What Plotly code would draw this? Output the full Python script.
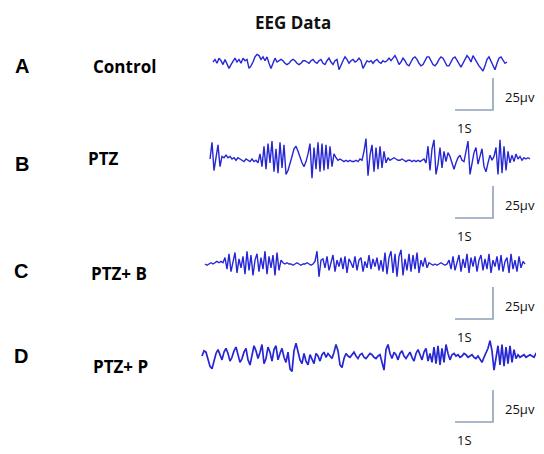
import plotly.graph_objects as go

# ---------------- data ----------------
panel_letters = ["A", "B", "C", "D"]
conditions = ["Control", "PTZ", "PTZ+ B", "PTZ+ P"]
title_text = "EEG Data"
scale_amp_label = "25µv"
scale_time_label = "1S"
scale_amp_uv = 25      # µV
scale_time_s = 1       # s
sample_dt = 2 / 38     # s between samples

# EEG amplitudes in µV (relative to each trace's baseline)
eeg_control = [0, 2, -1, 3, 1, -2, 2, -1,
               -5, -2, 1,
               3, 0, 2, -1, 3, 1, 2,
               -5, -3,
               0, 4, 6, 5, 2,
               4, 1, 4, -1, -5, -1, 3, 0,
               1, 2, 1, -1, -2, -1, 1, 2, 1, -1, -2, -1, 1, 1, 0, -1,
               1, 2, 0, -1, 1, 2, -1, -2, 1, 3, 0, -2, 1, 2,
               -6, -2, 1,
               4, 2, -1, 1, 2, 0, 1, 3, 1,
               -5, -2,
               1, 0, 1, -1, 1, 2, 0, -1, 1, 0,
               1, 3, 1, 3, 5, 2, -2, 0, 3, 1,
               -2, -3, 0, 3, 4, 2, -1, -3, -2, 1, 4, 4, 1, -2, -3, -1, 2, 4, 3, 0, -3, -3, 0, 3, 4, 1,
               -2, -4, -1, 2, 5, 3, 0,
               5, 2, -1, -3, -5,
               -7, -3, 2,
               4, 1, -3, -6, -1, 3, 4, 1, -1, 0]

eeg_ptz = [0, 13, -9, 3, 11, -6,
           2, 1, 3, 1, 2, 0, 1, -1, 1, 0, -1, -2, 0, -1, -2, 0, -2, -1, -3,
           4, -6, 10, -8, 12, -3, 14, -10, 8, -11, 13, -7, 11, -12, -9, -4,
           2, 8, 10, 6, 1, -3, -6, -2,
           4, 12, -15, 9, -8, 13, -10, 12, -9, 11, -8, 10, -6, 4,
           1, -1, 0, -1, -2, -1, -2, -1, -2, -2, -1, -2, 0, -1,
           6, 16, -13, 3, 11, -10, 9, -8, 10, -7, 6, -3,
           1, -1, 0, 1, 0, -1, -1, 0, -1, -2, -1, -1, -2, -1, -2, -1, -2, -1, 0, -3,
           10, -9, 8, 15, -12, -4, 9, -7, 6, -2,
           5, 2, -3, -8, -3, 1, 3, -1, -2,
           6, 14, -12, -3,
           5, 9, -4, 2, 8, -6, -10, -3, 3, -1, 2,
           9, -12, 15, -11, 10, -9, 6, -3,
           3, -2, 4, 0, 2, -1, 1, 0, 1, 0]

eeg_ptz_b = [0, -1, 0, 1, 0, 1, 2, 1, 2, 1,
             5, -4, 8, -6, 3, 9, -7, 4, -3, 6, -8, 10, -5, 7, -9, 3, 8, -6, 5, -4, 10, -8, 6, -3, 7, -9, 9, -5, 3,
             1, 0, 1, 0, 0, -1, 0, 1, 0, -1, 0, 0, 1, 0, -1, 0, 2,
             10, -10, 3,
             4, -3, 6, -5, 2, 7, -6, 3, -2, 5, -4, 6, -7, 4, 1, -3, 6, -5, 3, 5, -6, 2, -3, 7, -4, 4, -2, 5, -5, 3,
             -6, 9, -8, 5, 10, -7, 8, -10, 6, 11, -9, 4, -5, 8, -6, 7, -4, 9, -7, 3, -2, 5, -3,
             1, 0, -1, 0, -1, 0, 1, 0, -1, 0,
             3, -4, 6, -5, 2, 7, -6, 4, -3, 8, -7, 5, -2, 6, -6, 3, 7, -5, 4, -4, 8, -7, 3, -2, 6, -5, 7, -6, 2, 5,
             -7, 8, -4, 3, -6, 6, -3, 2, 0]

eeg_ptz_p = [0, 4, 3, -2, -8, -10, -4,
             2, 5, 1, -3, 3, 6, 2, -4, -1, 4, 7, 1, -5, -2, 3, 6, -3, -7, 2, 8, 4, -2, 3, 9, -6, -2, 7, 3, -4,
             5, 8, -3, 2, 6, -1, -5, 3, -10,
             -12, 4, 10, 3, -3,
             -6, 2, -4, -7, 1, -3, -6, 2, 0, -4, 1, 3, -1, 2, 0, -2, 3,
             9, 4, -7, -9, -2,
             2, 0, -1, 1, 3, 0, -2, 1, 2, -1, -2, 0, 2, 1, -1, -2, 0, 1,
             -6, -11, 5, 9, 2,
             -2, 3, 1, -3, 2, 4, 0, -2, 1, 3, -1, -4, 2, 5, 1, -3, 3, 6, -4, 2, -5, 7, -6, 8,
             -7, 6, -5, 9, 2, -3, 1,
             2, 0, 1, -1, 0, 2, 1, -1, 0, 1, -1, -2, 0, -3, -5, -1, 2, 6,
             12, 4, -11, -3,
             8, -7, 9, -8, 7, -6, 8, -5, 5, -2,
             1, -1, 0, 1, -1, 0, 1, 0, -1, 2, 3]

traces = [eeg_control, eeg_ptz, eeg_ptz_b, eeg_ptz_p]

# ---------------- layout (pixel geometry of the reference page) ----------------
PAGE_W, PAGE_H = 544, 454
BODY_MARGIN = 8                      # browser default body margin
W, H = PAGE_W - BODY_MARGIN, PAGE_H - BODY_MARGIN
PX_PER_S = 38.0
PX_PER_UV = 32.0 / 25.0

trace_start_px = [213, 210, 205, 202]
trace_base_py = [62, 159, 264, 356]
trace_widths = [1.4, 1.4, 1.4, 1.7]
bar_corner_px = 493
bar_corner_py = [110, 218, 319, 422]
letter_pos = [(22, 66), (22, 164), (21, 271), (21, 356)]
cond_pos = [(124, 66), (103, 158), (119, 273), (120, 366)]

TRACE_COLOR = "#2626d4"
BAR_COLOR = "#8fa0b6"


def xs(px):
    return (px - BODY_MARGIN) / PX_PER_S


def ys(py):
    return (PAGE_H - py) / PX_PER_UV


fig = go.Figure()

for vals, sx, by, lw in zip(traces, trace_start_px, trace_base_py, trace_widths):
    t0 = xs(sx)
    base = ys(by)
    fig.add_trace(go.Scatter(
        x=[t0 + i * sample_dt for i in range(len(vals))],
        y=[base + v for v in vals],
        mode="lines",
        line=dict(color=TRACE_COLOR, width=lw),
        hoverinfo="skip", showlegend=False))

annotations = []
for cy in bar_corner_py:
    cx = xs(bar_corner_px)
    cyd = ys(cy)
    fig.add_trace(go.Scatter(
        x=[cx - scale_time_s, cx, cx],
        y=[cyd, cyd, cyd + scale_amp_uv],
        mode="lines",
        line=dict(color=BAR_COLOR, width=1.6),
        hoverinfo="skip", showlegend=False))
    annotations.append(dict(x=xs(bar_corner_px + 10), y=ys(cy - 13), text=scale_amp_label,
                            xanchor="left", yanchor="middle", showarrow=False,
                            font=dict(family="Open Sans", size=13, color="#111111")))
    annotations.append(dict(x=xs(bar_corner_px - 38), y=ys(cy + 18), text=scale_time_label,
                            xanchor="left", yanchor="middle", showarrow=False,
                            font=dict(family="Open Sans", size=13, color="#111111")))

for letter, (lx, ly) in zip(panel_letters, letter_pos):
    annotations.append(dict(x=xs(lx), y=ys(ly), text="<b>%s</b>" % letter,
                            xanchor="center", yanchor="middle", showarrow=False,
                            font=dict(family="Liberation Sans", size=20, color="#000000")))

for cond, (cx, cy) in zip(conditions, cond_pos):
    annotations.append(dict(x=xs(cx), y=ys(cy), text="<b>%s</b>" % cond,
                            xanchor="center", yanchor="middle", showarrow=False,
                            font=dict(family="Open Sans", size=17, color="#000000")))

annotations.append(dict(x=xs(293), y=ys(22), text="<b>%s</b>" % title_text,
                        xanchor="center", yanchor="middle", showarrow=False,
                        font=dict(family="Open Sans", size=17, color="#111111")))

fig.update_layout(
    width=W, height=H,
    margin=dict(l=0, r=0, t=0, b=0),
    paper_bgcolor="white", plot_bgcolor="white",
    xaxis=dict(range=[0, W / PX_PER_S], visible=False, fixedrange=True),
    yaxis=dict(range=[0, H / PX_PER_UV], visible=False, fixedrange=True),
    annotations=annotations,
)

fig.write_html("out.html")
